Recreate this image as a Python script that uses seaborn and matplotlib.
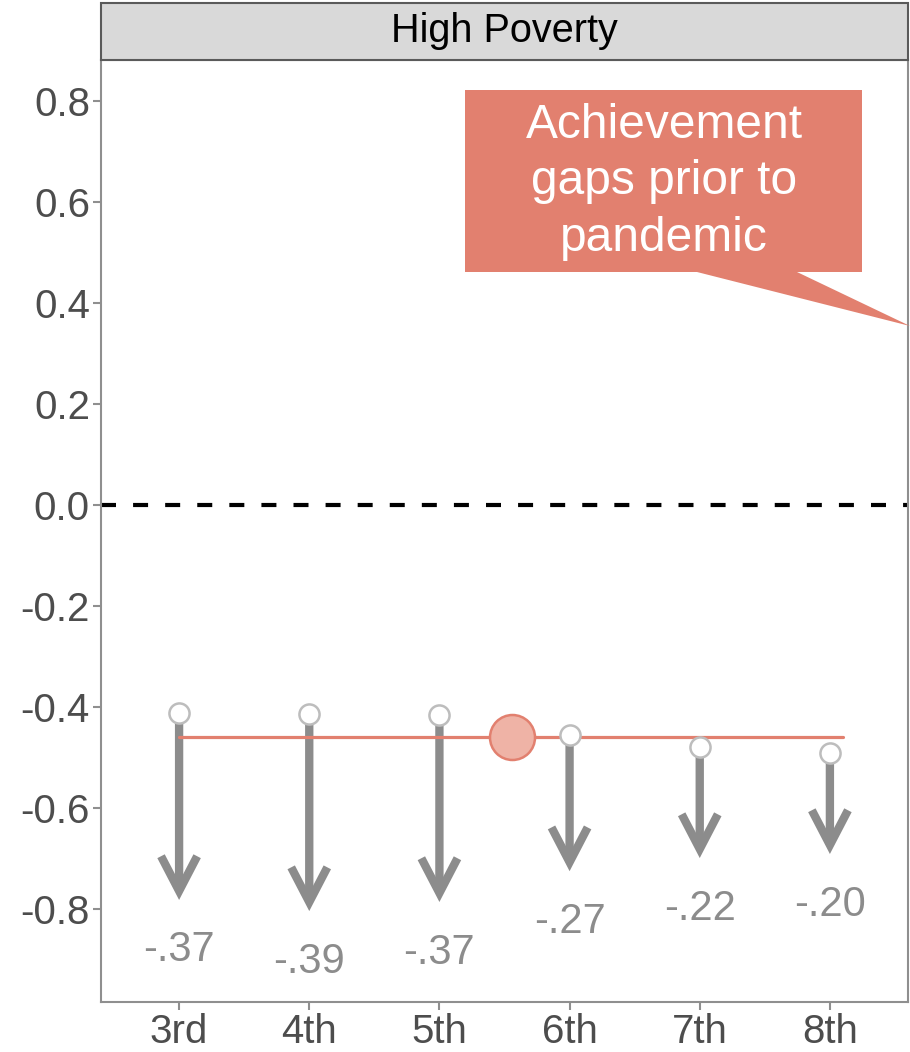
"""Pandemic change in achievement gaps, high poverty districts."""
import numpy as np
import matplotlib
matplotlib.use("Agg")
import matplotlib.pyplot as plt
from matplotlib.patches import Polygon, Rectangle
import seaborn as sns

# data
grades = ["3rd", "4th", "5th", "6th", "7th", "8th"]
gap_before = [-0.412, -0.414, -0.416, -0.455, -0.479, -0.491]
gap_change = [-0.37, -0.39, -0.37, -0.27, -0.22, -0.20]
mean_gap_before = -0.459
mean_gap_xpos = 2.56          # position on the grade axis (0 = 3rd)
yticks = [-0.8, -0.6, -0.4, -0.2, 0.0, 0.2, 0.4, 0.6, 0.8]

ARROW_GRAY = "#8c8c8c"
SALMON = "#e2806f"
SALMON_LIGHT = "#efb3a6"
TICK_COLOR = "#4d4d4d"


def setup_style():
    sns.set_theme(style="white")
    plt.rcParams.update({
        "font.family": ["Liberation Sans", "DejaVu Sans"],
        "axes.edgecolor": "#8f8f8f",
        "axes.linewidth": 1.5,
    })


def main():
    setup_style()
    fig = plt.figure(figsize=(9.10, 10.52), dpi=100)
    W, H = 910, 1052
    left, right, top, bottom = 101, 908, 60, 1002
    ax = fig.add_axes([left / W, 1 - bottom / H, (right - left) / W, (bottom - top) / H])

    x = np.arange(len(grades))
    ends = [b + c for b, c in zip(gap_before, gap_change)]

    # reference line at zero
    ax.axhline(0, color="black", lw=3, dashes=(3.6, 4.1), zorder=1)

    # arrows from pre-pandemic gap to post-pandemic gap
    for xi, b, e in zip(x, gap_before, ends):
        ax.annotate(
            "", xy=(xi, e), xytext=(xi, b),
            arrowprops=dict(
                arrowstyle="->,head_length=25,head_width=13",
                mutation_scale=1, lw=6, color=ARROW_GRAY,
                shrinkA=0, shrinkB=0, joinstyle="miter", capstyle="butt",
            ),
            zorder=2,
        )

    # average gap prior to pandemic
    ax.plot([x[0], x[-1] + 0.1], [mean_gap_before] * 2, color=SALMON, lw=2.3, zorder=3)
    sns.scatterplot(x=[mean_gap_xpos], y=[mean_gap_before], s=1050, color=SALMON_LIGHT,
                    edgecolor=SALMON, linewidth=1.8, ax=ax, zorder=4, legend=False)

    # start points
    sns.scatterplot(x=x, y=gap_before, s=210, color="white", edgecolor="#bdbdbd",
                    linewidth=1.8, ax=ax, zorder=5, legend=False)

    # change labels
    for xi, e, c in zip(x, ends, gap_change):
        label = f"{c:.2f}".replace("0.", ".")
        ax.text(xi, e - 0.1, label, ha="center", va="center", fontsize=30,
                color=ARROW_GRAY, zorder=6)

    ax.set_xlim(-0.6, len(grades) - 0.4)
    ax.set_ylim(-0.984, 0.881)
    ax.set_xticks(x)
    ax.set_xticklabels(grades)
    ax.set_yticks(yticks)
    ax.set_yticklabels([f"{v:.1f}" for v in yticks])
    ax.tick_params(axis="both", which="both", length=6, width=1.5, color="#8f8f8f",
                   labelsize=29, labelcolor=TICK_COLOR, pad=2, left=True, bottom=True)
    ax.set_xlabel("")
    ax.set_ylabel("")

    # facet strip
    strip = Rectangle((left / W, 1 - top / H), (right - left) / W, (top - 3) / H,
                      transform=fig.transFigure, facecolor="#d9d9d9",
                      edgecolor="#5a5a5a", lw=1.5, zorder=0)
    fig.patches.append(strip)
    fig.text((left + right) / 2 / W, 1 - (top + 3) / 2 / H, "High Poverty",
             ha="center", va="center", fontsize=28.5, color="black")

    # callout box
    def axf(px, py):
        return ((px - left) / (right - left), (bottom - py) / (bottom - top))

    box = Polygon([axf(465, 90), axf(862, 90), axf(862, 272), axf(797, 272),
                   axf(910, 326), axf(697, 272), axf(465, 272)],
                  closed=True, transform=ax.transAxes, facecolor=SALMON,
                  edgecolor="none", clip_on=False, zorder=7)
    ax.add_patch(box)
    cx, cy = axf(664, 182)
    ax.text(cx, cy, "Achievement\ngaps prior to\npandemic", transform=ax.transAxes,
            ha="center", va="center", fontsize=34.5, color="white", linespacing=1.32,
            zorder=8)

    fig.savefig("out.png", dpi=100)
    plt.close(fig)


if __name__ == "__main__":
    main()
